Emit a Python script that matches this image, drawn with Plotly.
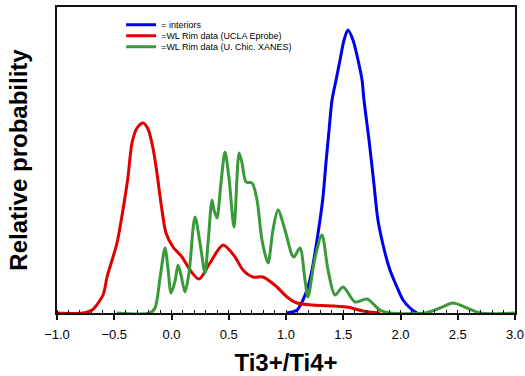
import plotly.graph_objects as go

# ---- data (x = Ti3+/Ti4+, y = relative probability, arbitrary units) ----
interiors_x = [1.009, 1.096, 1.148, 1.192, 1.227, 1.253, 1.297, 1.323, 1.349, 1.376, 1.402,
               1.437, 1.472, 1.507, 1.541, 1.585, 1.629, 1.664, 1.681, 1.725, 1.769, 1.803,
               1.865, 1.908, 1.969, 2.022, 2.083, 2.144]
interiors_y = [0, 3, 13, 26, 43, 60, 93, 116, 150, 183, 213,
               233, 253, 273, 283, 273, 253, 233, 213, 173, 128, 93,
               60, 43, 26, 13, 5, 0]

ucla_x = [-1.0, -0.773, -0.694, -0.598, -0.563, -0.476, -0.424, -0.380, -0.345, -0.301, -0.249,
          -0.205, -0.162, -0.127, -0.092, -0.048, 0.013, 0.092, 0.162, 0.240, 0.336, 0.450,
          0.555, 0.624, 0.712, 0.799, 0.921, 1.009, 1.096, 1.236, 1.533, 1.672, 1.821]
ucla_y = [0, 0, 3, 18, 36, 70, 103, 136, 170, 185, 190,
          184, 165, 140, 110, 80, 66, 56, 43, 34, 50, 68,
          56, 43, 36, 36, 26, 16, 10, 8, 6, 2, 0]

xanes_x = [-0.48, -0.188, -0.144, -0.100, -0.057, -0.031, -0.004, 0.031, 0.057, 0.083, 0.118,
           0.153, 0.205, 0.249, 0.293, 0.319, 0.354, 0.371, 0.397, 0.432, 0.467, 0.502,
           0.546, 0.590, 0.616, 0.651, 0.703, 0.747, 0.790, 0.843, 0.886, 0.930, 0.991,
           1.052, 1.070, 1.122, 1.166, 1.192, 1.253, 1.314, 1.367, 1.428, 1.498, 1.603,
           1.707, 1.821, 1.908, 2.214, 2.345, 2.459, 2.581, 2.694, 3.0]
xanes_y = [0, 0, 5, 35, 65, 45, 20, 32, 48, 38, 21,
           40, 96, 70, 40, 70, 113, 103, 95, 130, 161, 135,
           86, 160, 150, 131, 130, 113, 73, 50, 83, 103, 83,
           58, 56, 65, 33, 16, 55, 78, 43, 18, 26, 11,
           14, 3, 0, 0, 5, 10, 5, 0, 0]

series_names = ["= interiors", "=WL Rim data (UCLA Eprobe)", "=WL Rim data (U. Chic. XANES)"]
series_colors = ["#0000f0", "#e00000", "#3a9a3a"]

FONT = "Arial, Liberation Sans, sans-serif"

fig = go.Figure()
datasets = [(interiors_x, interiors_y), (ucla_x, ucla_y), (xanes_x, xanes_y)]
legends = ["legend", "legend2", "legend3"]
for (xs, ys), name, color, lg in zip(datasets, series_names, series_colors, legends):
    fig.add_trace(go.Scatter(x=xs, y=ys, mode="lines", name=name, legend=lg,
                             line=dict(color=color, width=3, shape="spline", smoothing=0.8)))

leg_common = dict(xanchor="left", yanchor="middle", bgcolor="rgba(0,0,0,0)",
                  borderwidth=0, font=dict(family=FONT, size=9, color="black"),
                  itemwidth=30)
fig.update_layout(
    width=525, height=376,
    margin=dict(l=57, r=10, t=7, b=63),
    paper_bgcolor="white", plot_bgcolor="white",
    showlegend=True,
    legend=dict(x=0.14, y=0.942, **leg_common),
    legend2=dict(x=0.14, y=0.906, **leg_common),
    legend3=dict(x=0.14, y=0.870, **leg_common),
    font=dict(family=FONT, color="black"),
)
fig.update_xaxes(
    range=[-1.0, 3.0], dtick=0.5, tick0=-1.0, tickformat=".1f", automargin=False,
    showline=True, linecolor="#111", linewidth=2, mirror=True,
    ticks="outside", ticklen=5, tickwidth=1.5, tickcolor="#111",
    minor=dict(ticks="inside", dtick=0.1, ticklen=3, tickwidth=1, tickcolor="#111"),
    showgrid=False, zeroline=False, ticklabelstandoff=3, ticklabeloverflow="allow",
    tickfont=dict(family=FONT, size=13, color="black"),
    title=dict(text="<b>Ti3+/Ti4+</b>", font=dict(family=FONT, size=24, color="black"), standoff=14),
)
fig.update_yaxes(
    range=[0, 306], showticklabels=False, ticks="", automargin=False,
    showline=True, linecolor="#111", linewidth=2, mirror=True,
    showgrid=False, zeroline=False,
    title=dict(text="<b>Relative probability</b>", font=dict(family=FONT, size=24, color="black"), standoff=21),
)
# remove the browser's default 8px page margin so the figure fills the window exactly
fig.write_html("out.html", config={"displayModeBar": False},
               post_script="document.body.style.margin='0';")
